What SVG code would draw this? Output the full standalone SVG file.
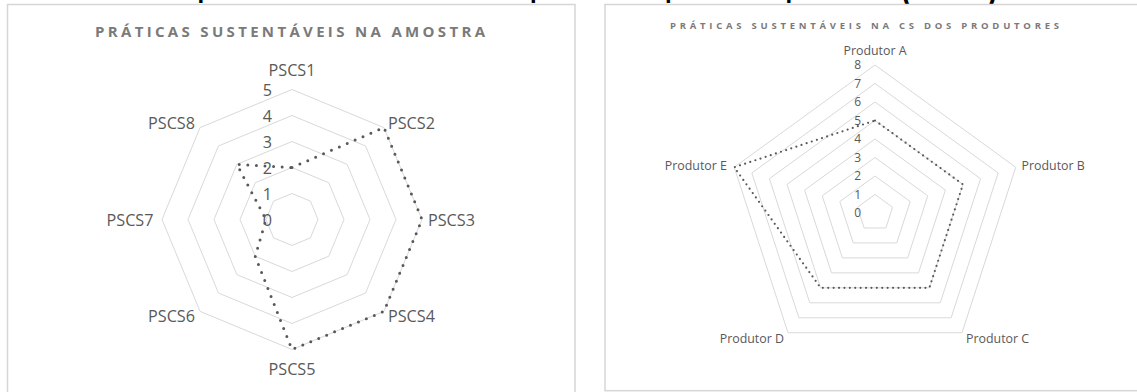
<svg xmlns="http://www.w3.org/2000/svg" width="1137" height="392" viewBox="0 0 1137 392">
  <style>
    .frame { fill: #ffffff; stroke: #d6d6d6; stroke-width: 1.5; }
    .ring { fill: none; stroke: #d9d9d9; stroke-width: 1; }
    .series-l { fill: none; stroke: #595959; stroke-width: 3; stroke-linecap: round; stroke-linejoin: round; stroke-dasharray: 0 8.6; }
    .series-r { fill: none; stroke: #595959; stroke-width: 2.2; stroke-linecap: round; stroke-linejoin: round; stroke-dasharray: 0 5.4; }
    .title { font-family: "Open Sans", "Liberation Sans", sans-serif; font-weight: bold; fill: #7a7a7a; }
    .lab-l { font-family: "Open Sans", "Liberation Sans", sans-serif; font-size: 16.2px; fill: #595959; }
    .lab-r { font-family: "Open Sans", "Liberation Sans", sans-serif; font-size: 12.4px; fill: #595959; }
    .tick-l { font-family: "Open Sans", "Liberation Sans", sans-serif; font-size: 16.2px; fill: #595959; text-anchor: end; }
    .tick-r { font-family: "Open Sans", "Liberation Sans", sans-serif; font-size: 12px; fill: #595959; text-anchor: end; }
    .caption { font-family: "Liberation Sans", sans-serif; font-weight: bold; fill: #000000; }
  </style>
  <rect x="0" y="0" width="1137" height="392" fill="#ffffff"/>

  <!-- caption line above the charts, mostly cut off by the top edge -->
  <g id="caption">
    <text class="caption" x="197.6" y="-1.7" font-size="24">p</text>
    <text class="caption" x="530" y="-1.7" font-size="24">p</text>
    <text class="caption" x="665" y="-1.7" font-size="24">p</text>
    <text class="caption" x="785.4" y="-1.7" font-size="24">p</text>
    <text class="caption" x="902" y="2.4" font-size="28">(</text>
    <text class="caption" x="987" y="2.4" font-size="28">)</text>
  </g>

  <!-- left chart: radar with eight axes -->
  <g id="chart-amostra">
    <rect class="frame" x="7.5" y="4.5" width="567.5" height="400"/>
    <text class="title" x="95" y="37.3" font-size="15" textLength="390" lengthAdjust="spacing">PRÁTICAS SUSTENTÁVEIS NA AMOSTRA</text>
    <g id="grid-amostra">
      <polygon class="ring" points="292,193.5 310.38,201.12 318,219.5 310.38,237.88 292,245.5 273.62,237.88 266,219.5 273.62,201.12"/>
      <polygon class="ring" points="292,167.5 328.77,182.73 344,219.5 328.77,256.27 292,271.5 255.23,256.27 240,219.5 255.23,182.73"/>
      <polygon class="ring" points="292,141.5 347.15,164.35 370,219.5 347.15,274.65 292,297.5 236.85,274.65 214,219.5 236.85,164.35"/>
      <polygon class="ring" points="292,115.5 365.54,145.96 396,219.5 365.54,293.04 292,323.5 218.46,293.04 188,219.5 218.46,145.96"/>
      <polygon class="ring" points="292,89.5 383.92,127.58 422,219.5 383.92,311.42 292,349.5 200.08,311.42 162,219.5 200.08,127.58"/>
    </g>
    <g id="ticks-amostra">
      <text class="tick-l" x="272" y="95.5">5</text>
      <text class="tick-l" x="272" y="121.5">4</text>
      <text class="tick-l" x="272" y="147.5">3</text>
      <text class="tick-l" x="272" y="173.5">2</text>
      <text class="tick-l" x="272" y="199.5">1</text>
      <text class="tick-l" x="272" y="225.5">0</text>
    </g>
    <g id="series-amostra">
      <polygon class="series-l" points="292,167.5 383.92,127.58 422,219.5 383.92,311.42 292,349.5 255.23,256.27 266,219.5 236.85,164.35"/>
    </g>
    <g id="axes-amostra">
      <text class="lab-l" x="292" y="76" text-anchor="middle">PSCS1</text>
      <text class="lab-l" x="388" y="129">PSCS2</text>
      <text class="lab-l" x="428" y="225.7">PSCS3</text>
      <text class="lab-l" x="388" y="321.7">PSCS4</text>
      <text class="lab-l" x="292" y="375" text-anchor="middle">PSCS5</text>
      <text class="lab-l" x="195" y="321.7" text-anchor="end">PSCS6</text>
      <text class="lab-l" x="153.5" y="225.7" text-anchor="end">PSCS7</text>
      <text class="lab-l" x="195" y="129" text-anchor="end">PSCS8</text>
    </g>
  </g>

  <!-- right chart: radar with five producers -->
  <g id="chart-produtores">
    <rect class="frame" x="605" y="4.5" width="600" height="386.2"/>
    <text class="title" x="670" y="29.3" font-size="9.5" textLength="389" lengthAdjust="spacing">PRÁTICAS SUSTENTÁVEIS NA CS DOS PRODUTORES</text>
    <g id="grid-produtores">
      <polygon class="ring" points="875,194.5 892.59,207.28 885.87,227.97 864.13,227.97 857.41,207.28"/>
      <polygon class="ring" points="875,176 910.19,201.57 896.75,242.93 853.25,242.93 839.81,201.57"/>
      <polygon class="ring" points="875,157.5 927.78,195.85 907.62,257.9 842.38,257.9 822.22,195.85"/>
      <polygon class="ring" points="875,139 945.38,190.13 918.5,272.87 831.5,272.87 804.62,190.13"/>
      <polygon class="ring" points="875,120.5 962.97,184.42 929.37,287.83 820.63,287.83 787.03,184.42"/>
      <polygon class="ring" points="875,102 980.57,178.7 940.24,302.8 809.76,302.8 769.43,178.7"/>
      <polygon class="ring" points="875,83.5 998.16,172.98 951.12,317.77 798.88,317.77 751.84,172.98"/>
      <polygon class="ring" points="875,65 1015.76,167.27 961.99,332.74 788.01,332.74 734.24,167.27"/>
    </g>
    <g id="ticks-produtores">
      <text class="tick-r" x="861" y="69">8</text>
      <text class="tick-r" x="861" y="87.5">7</text>
      <text class="tick-r" x="861" y="106">6</text>
      <text class="tick-r" x="861" y="124.5">5</text>
      <text class="tick-r" x="861" y="143">4</text>
      <text class="tick-r" x="861" y="161.5">3</text>
      <text class="tick-r" x="861" y="180">2</text>
      <text class="tick-r" x="861" y="198.5">1</text>
      <text class="tick-r" x="861" y="217">0</text>
    </g>
    <g id="series-produtores">
      <polygon class="series-r" points="875,120.5 962.97,184.42 929.37,287.83 820.63,287.83 734.24,167.27"/>
    </g>
    <g id="axes-produtores">
      <text class="lab-r" x="875" y="55" text-anchor="middle">Produtor A</text>
      <text class="lab-r" x="1021.5" y="170">Produtor B</text>
      <text class="lab-r" x="966" y="342.7">Produtor C</text>
      <text class="lab-r" x="784" y="342.7" text-anchor="end">Produtor D</text>
      <text class="lab-r" x="727" y="170" text-anchor="end">Produtor E</text>
    </g>
  </g>
</svg>
